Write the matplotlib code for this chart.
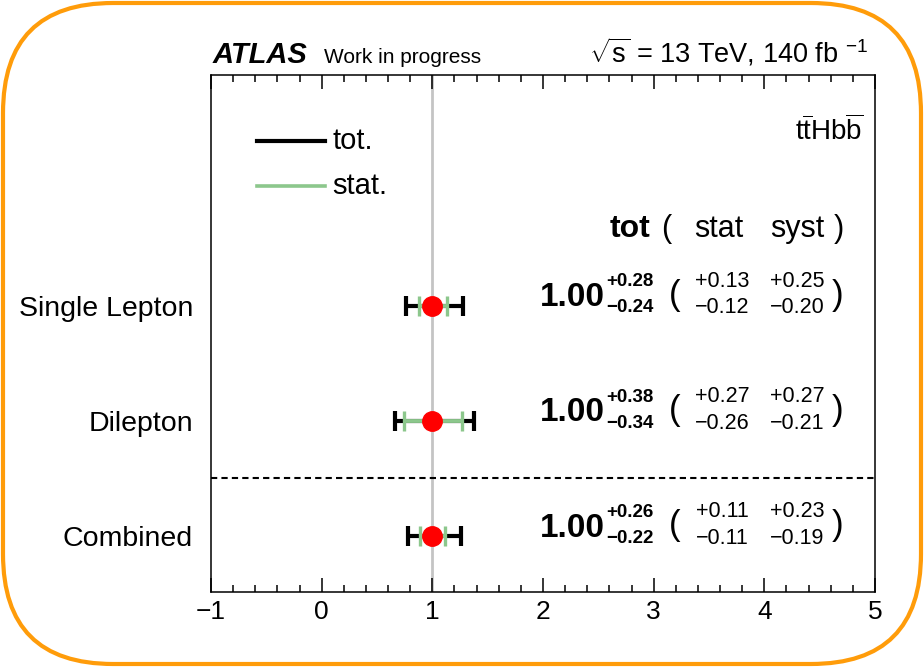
import matplotlib.pyplot as plt
from matplotlib.patches import FancyBboxPatch

plt.rcParams['font.family'] = ['Liberation Sans', 'DejaVu Sans']
plt.rcParams['mathtext.fontset'] = 'custom'
plt.rcParams['mathtext.rm'] = 'Liberation Sans'
plt.rcParams['mathtext.bf'] = 'Liberation Sans:bold'
plt.rcParams['mathtext.it'] = 'Liberation Sans:italic'

# channels, top to bottom
channels = ['Single Lepton', 'Dilepton', 'Combined']
ypos = [3, 2, 1]
mu = [1.00, 1.00, 1.00]
tot_up = [0.28, 0.38, 0.26]
tot_dn = [0.24, 0.34, 0.22]
stat_up = [0.13, 0.27, 0.11]
stat_dn = [0.12, 0.26, 0.11]
syst_up = [0.25, 0.27, 0.23]
syst_dn = [0.20, 0.21, 0.19]

xticks = [-1, 0, 1, 2, 3, 4, 5]
xticklabels = ['\u22121', '0', '1', '2', '3', '4', '5']
xminor = [t / 5 for t in range(-5, 26) if t % 5]

tot_color = 'black'
stat_color = '#8cc78c'

fig = plt.figure(figsize=(9.24, 6.67), dpi=100)

# rounded frame around the whole figure
bg = fig.add_axes([0, 0, 1, 1])
bg.set_xlim(0, 924)
bg.set_ylim(0, 667)
bg.axis('off')
bg.add_patch(FancyBboxPatch((3, 3), 918, 661,
                            boxstyle='round,pad=0,rounding_size=110',
                            fill=False, ec='#ff9c0a', lw=3.0))

ax = fig.add_axes([211 / 924, 75 / 667, 664 / 924, 517 / 667])
ax.set_xlim(-1, 5)
ax.set_ylim(0.515, 5.0)

ax.axvline(1, color='#c4c4c4', lw=2, zorder=1)
ax.axhline(1.5, color='black', lw=1.5, ls=(0, (3, 2)), zorder=1)

ax.errorbar(mu, ypos, xerr=[tot_dn, tot_up], fmt='none', ecolor=tot_color,
            elinewidth=3, capsize=7, capthick=3, zorder=2)
ax.errorbar(mu, ypos, xerr=[stat_dn, stat_up], fmt='none', ecolor=stat_color,
            elinewidth=2.8, capsize=7, capthick=2.4, zorder=3)
ax.plot(mu, ypos, 'o', color='#ff0000', ms=14, zorder=4)

# result text for each channel
for y, m, tu, td, su, sd, yu, yd in zip(ypos, mu, tot_up, tot_dn, stat_up,
                                         stat_dn, syst_up, syst_dn):
    ax.text(2.555, y + 0.07, f'{m:.2f}', ha='right', va='center',
            fontsize=24, fontweight='bold')
    ax.text(2.57, y + 0.205, f'+{tu:.2f}', ha='left', va='center',
            fontsize=13.5, fontweight='bold')
    ax.text(2.57, y - 0.02, f'\u2212{td:.2f}', ha='left', va='center',
            fontsize=13.5, fontweight='bold')
    ax.text(3.193, y + 0.09, '(', ha='center', va='center', fontsize=25)
    ax.text(3.622, y + 0.21, f'+{su:.2f}', ha='center', va='center', fontsize=15.5)
    ax.text(3.622, y - 0.02, f'\u2212{sd:.2f}', ha='center', va='center', fontsize=15.5)
    ax.text(4.295, y + 0.21, f'+{yu:.2f}', ha='center', va='center', fontsize=15.5)
    ax.text(4.295, y - 0.02, f'\u2212{yd:.2f}', ha='center', va='center', fontsize=15.5)
    ax.text(4.661, y + 0.09, ')', ha='center', va='center', fontsize=25)

# column header
hy = 3.667
ax.text(2.786, hy, 'tot', ha='center', va='center', fontsize=23, fontweight='bold')
ax.text(3.11, hy, '(', ha='center', va='center', fontsize=22)
ax.text(3.59, hy, 'stat', ha='center', va='center', fontsize=22)
ax.text(4.295, hy, 'syst', ha='center', va='center', fontsize=22)
ax.text(4.675, hy, ')', ha='center', va='center', fontsize=22)

# legend drawn by hand
ax.plot([-0.585, 0.03], [4.425, 4.425], color=tot_color, lw=3)
ax.plot([-0.585, 0.03], [4.035, 4.035], color=stat_color, lw=2.6)
ax.text(0.1, 4.425, 'tot.', ha='left', va='center', fontsize=21)
ax.text(0.1, 4.035, 'stat.', ha='left', va='center', fontsize=21)

ax.text(4.89, 4.52, r'$\mathrm{t\overline{t}Hb\overline{b}}$', ha='right',
        va='center', fontsize=20)

# header above the frame
ax.text(0.003, 1.012, 'ATLAS', transform=ax.transAxes, ha='left', va='bottom',
        fontsize=21, fontweight='bold', fontstyle='italic')
ax.text(0.17, 1.016, 'Work in progress', transform=ax.transAxes, ha='left',
        va='bottom', fontsize=15)
ax.text(0.99, 1.012, r'$\sqrt{\mathrm{s}}$ = 13 TeV, 140 fb $^{\mathrm{-1}}$',
        transform=ax.transAxes, ha='right', va='bottom', fontsize=19.5)

ax.set_yticks(ypos)
ax.set_yticklabels(channels, fontsize=20.5)
ax.tick_params(axis='y', length=0, pad=13)

ax.set_xticks(xticks)
ax.set_xticklabels(xticklabels)
ax.set_xticks(xminor, minor=True)
ax.tick_params(axis='x', which='both', direction='in', top=True, bottom=True,
               labelsize=19, pad=6, color='black')
ax.tick_params(axis='x', which='major', length=10, width=1.1)
ax.tick_params(axis='x', which='minor', length=5, width=1.1)
for s in ax.spines.values():
    s.set_linewidth(1.1)

fig.savefig('out.png', dpi=100)
